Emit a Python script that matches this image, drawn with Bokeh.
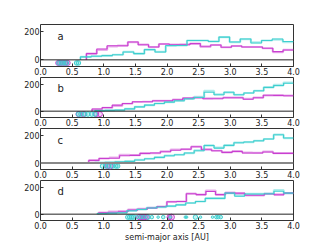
import numpy as np
from bokeh.plotting import figure
from bokeh.layouts import column
from bokeh.models import Range1d, FixedTicker, LinearAxis, Span, Label, NumeralTickFormatter
from bokeh.embed import file_html
from bokeh.resources import INLINE

# ---------------- data ----------------
panel_names = ["a", "b", "c", "d"]
x_ticks = [0.0, 0.5, 1.0, 1.5, 2.0, 2.5, 3.0, 3.5, 4.0]
y_ticks = [0, 200]

# histogram: first bin edge, 20 equal bins up to 4.0 AU
mag_start = [0.726, 0.816, 0.763, 0.92]
cyn_start = [0.632, 0.86, 0.86, 0.90]

mag_a = [44, 77, 100, 100, 126, 107, 91, 112, 107, 107, 115, 96, 105, 89, 98, 91, 91, 82, 58, 70]
cyn_a = [21, 26, 30, 36, 56, 44, 72, 56, 102, 102, 137, 137, 130, 161, 126, 147, 119, 137, 147, 130]
mag_b = [16, 27, 45, 57, 70, 70, 77, 77, 85, 97, 100, 92, 92, 100, 100, 88, 100, 118, 117, 115]
cyn_b = [4, 6, 8, 17, 32, 45, 57, 67, 77, 92, 102, 140, 122, 140, 122, 135, 152, 177, 190, 207]
mag_c = [19, 33, 35, 53, 55, 70, 72, 82, 92, 100, 118, 96, 89, 77, 84, 72, 72, 80, 70, 70]
cyn_c = [3, 5, 8, 12, 22, 31, 41, 53, 60, 72, 89, 128, 108, 128, 147, 152, 161, 174, 205, 181]
mag_d = [11, 14, 18, 30, 37, 46, 57, 92, 94, 152, 145, 168, 145, 156, 156, 140, 140, 152, 143, 156]
cyn_d = [5, 8, 10, 25, 35, 46, 53, 60, 69, 83, 94, 117, 117, 156, 133, 150, 150, 152, 170, 156]

# second (pale) set of histograms
mag_a2 = [44, 70, 95, 100, 126, 107, 91, 112, 107, 110, 115, 92, 105, 89, 98, 91, 91, 82, 55, 70]
cyn_a2 = [21, 26, 30, 36, 56, 44, 72, 56, 98, 102, 137, 137, 130, 161, 126, 147, 124, 137, 143, 126]
mag_b2 = [14, 24, 40, 55, 68, 70, 77, 77, 85, 95, 100, 95, 96, 100, 100, 92, 100, 118, 117, 115]
cyn_b2 = [4, 6, 8, 17, 32, 45, 57, 67, 77, 92, 106, 150, 125, 140, 122, 135, 150, 177, 195, 212]
mag_c2 = [19, 33, 40, 60, 57, 70, 72, 85, 98, 100, 118, 100, 89, 77, 84, 75, 74, 82, 72, 72]
cyn_c2 = [3, 5, 8, 12, 22, 31, 41, 53, 60, 72, 92, 125, 112, 128, 147, 152, 161, 174, 205, 181]
mag_d2 = [11, 20, 22, 34, 40, 46, 57, 92, 94, 152, 145, 175, 145, 160, 152, 140, 140, 150, 148, 156]
cyn_d2 = [5, 8, 10, 25, 35, 46, 53, 60, 69, 83, 94, 117, 117, 156, 138, 150, 150, 152, 178, 156]

mag_hist = [mag_a, mag_b, mag_c, mag_d]
cyn_hist = [cyn_a, cyn_b, cyn_c, cyn_d]
mag_hist2 = [mag_a2, mag_b2, mag_c2, mag_d2]
cyn_hist2 = [cyn_a2, cyn_b2, cyn_c2, cyn_d2]

# planets (semi-major axis, mass in arbitrary units)
mag_pl_a = [0.28, 0.31, 0.35, 0.39, 0.43]
mag_pl_m_a = [3, 3, 3, 3, 3]
cyn_pl_a = [0.29, 0.33, 0.37, 0.41, 0.57, 0.60]
cyn_pl_m_a = [3, 3, 3, 3, 3, 3]
mag_pl_b = [0.60, 0.68, 0.88, 0.94]
mag_pl_m_b = [3, 3, 3, 3]
cyn_pl_b = [0.60, 0.64, 0.70, 0.75, 0.81, 0.86]
cyn_pl_m_b = [3, 3, 3, 3, 3, 3]
mag_pl_c = [1.06, 1.10]
mag_pl_m_c = [3, 4]
cyn_pl_c = [0.98, 1.03, 1.08, 1.14, 1.19, 1.22]
cyn_pl_m_c = [3, 3, 3, 3, 3, 3]
mag_pl_d = [1.56, 1.59, 1.62, 1.65, 1.68, 2.04, 2.07]
mag_pl_m_d = [3, 3, 3, 3, 3, 3, 4]
cyn_pl_d = [1.38, 1.41, 1.44, 1.47, 1.52, 1.58, 1.63, 1.70, 1.76, 1.86, 1.94, 2.05,
            2.29, 2.31, 2.45, 2.53, 2.72, 2.78, 2.81, 2.85]
cyn_pl_m_d = [3, 3, 3, 3, 2, 2, 2, 3, 2, 1, 2, 1, 1, 1, 3, 1, 1, 2, 2, 2]

mag_pl = [(mag_pl_a, mag_pl_m_a), (mag_pl_b, mag_pl_m_b), (mag_pl_c, mag_pl_m_c), (mag_pl_d, mag_pl_m_d)]
cyn_pl = [(cyn_pl_a, cyn_pl_m_a), (cyn_pl_b, cyn_pl_m_b), (cyn_pl_c, cyn_pl_m_c), (cyn_pl_d, cyn_pl_m_d)]
planet_level = -22

# ---------------- style ----------------
MAG = "#c93fd0"
CYN = "#3fcfcf"
FONT = "DejaVu Sans"
TXT = "#222222"
HEIGHTS = [77, 51, 52, 64]
TOPS = [24, 0, 0, 0]


def step_xy(start, counts):
    edges = np.linspace(start, 4.0, len(counts) + 1)
    xs = np.concatenate([[edges[0]], edges])
    ys = np.concatenate([[0], counts, [counts[-1]]])
    return xs, ys


def style_axis(ax):
    ax.axis_line_color = None
    ax.major_tick_in = 3
    ax.major_tick_out = 0
    ax.minor_tick_in = 0
    ax.minor_tick_out = 0
    ax.major_tick_line_color = "#333333"
    ax.major_label_text_font = FONT
    ax.major_label_text_color = TXT
    ax.major_label_text_font_size = "8px"
    ax.major_label_standoff = 1


def make_panel(i, last):
    p = figure(width=303, height=HEIGHTS[i],
               x_range=Range1d(0, 4), y_range=Range1d(-47, 250),
               output_backend="svg", toolbar_location=None,
               min_border_left=40, min_border_right=10,
               min_border_top=TOPS[i], min_border_bottom=0,
               x_axis_location=None, y_axis_location=None)
    p.grid.visible = False
    p.outline_line_color = "#333333"
    p.outline_line_width = 1
    p.background_fill_color = "white"
    p.border_fill_color = "white"

    xb = LinearAxis(ticker=FixedTicker(ticks=x_ticks, minor_ticks=[]),
                    formatter=NumeralTickFormatter(format="0.0"))
    yl = LinearAxis(ticker=FixedTicker(ticks=y_ticks, minor_ticks=[]))
    style_axis(xb)
    style_axis(yl)
    if last:
        xb.axis_label = "semi-major axis [AU]"
        xb.axis_label_text_font = FONT
        xb.axis_label_text_font_size = "8px"
        xb.axis_label_text_font_style = "normal"
        xb.axis_label_text_color = TXT
        xb.axis_label_standoff = 1
    p.add_layout(xb, "below")
    p.add_layout(yl, "left")

    zl = Span(location=0, dimension="width",
              line_color="#888888" if i == 2 else "#222222",
              line_width=2 if i == 2 else 1)
    p.add_layout(zl)

    # pale histograms
    xs, ys = step_xy(mag_start[i], mag_hist2[i])
    p.step(xs, ys, mode="after", line_color=MAG, line_alpha=0.4, line_width=2.2)
    xs, ys = step_xy(cyn_start[i], cyn_hist2[i])
    p.step(xs, ys, mode="after", line_color=CYN, line_alpha=0.4, line_width=2.2)
    # main histograms
    xs, ys = step_xy(mag_start[i], mag_hist[i])
    p.step(xs, ys, mode="after", line_color=MAG, line_width=1.1)
    xs, ys = step_xy(cyn_start[i], cyn_hist[i])
    p.step(xs, ys, mode="after", line_color=CYN, line_width=1.1)

    # planets
    mx, mm = mag_pl[i]
    p.scatter(mx, [planet_level] * len(mx), size=[2 + 1.0 * m for m in mm],
              line_color=MAG, fill_color=MAG, fill_alpha=0.2, line_width=1.0)
    cx, cm = cyn_pl[i]
    p.scatter(cx, [planet_level] * len(cx), size=[1.5 + 1.0 * m for m in cm],
              line_color=CYN, fill_color=CYN, fill_alpha=0.3, line_width=1.0)

    p.add_layout(Label(x=0.27, y=165, text=panel_names[i], text_font=FONT,
                       text_font_size="10px", text_color=TXT,
                       text_baseline="middle", text_align="left"))
    return p


figs = [make_panel(i, i == 3) for i in range(4)]
layout = column(*figs, spacing=0)

open("out.html", "w").write(file_html(layout, INLINE))
